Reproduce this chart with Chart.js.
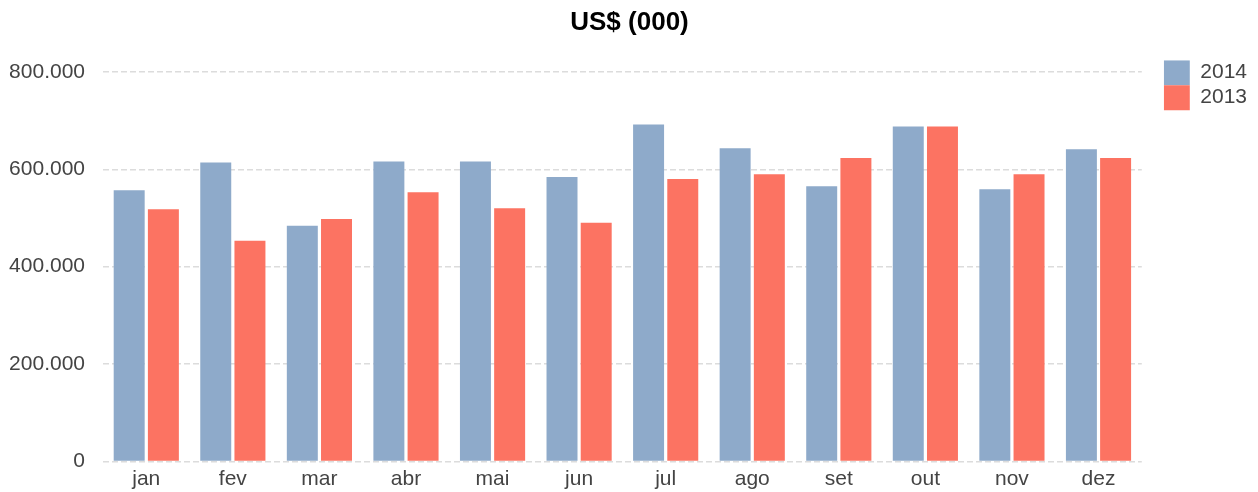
<!DOCTYPE html>
<html>
<head>
<meta charset="utf-8">
<title>US$ (000)</title>
<script src="https://cdn.jsdelivr.net/npm/chart.js@4"></script>
<style>
    html, body { margin: 0; padding: 0; background: #fff; }
    #wrap { width: 1258px; height: 492px; position: relative; }
</style>
</head>
<body>
<div id="wrap"><canvas id="barChart"></canvas></div>
<script>
const months = ['jan', 'fev', 'mar', 'abr', 'mai', 'jun', 'jul', 'ago', 'set', 'out', 'nov', 'dez'];
const values2014 = [557000, 614000, 484000, 616000, 616000, 584000, 692000, 643000, 565000, 688000, 559000, 641000];
const values2013 = [518000, 453000, 498000, 553000, 520000, 490000, 580000, 590000, 623000, 688000, 590000, 623000];
const yTicks = [0, 200000, 400000, 600000, 800000];

const formatThousands = (v) => v.toString().replace(/\B(?=(\d{3})+(?!\d))/g, '.');

document.addEventListener('DOMContentLoaded', () => {
    const ctx = document.getElementById('barChart').getContext('2d');
    const font = 'Liberation Sans, Arial, sans-serif';

    const barChart = new Chart(ctx, {
        type: 'bar',
        data: {
            labels: months,
            datasets: [
                {
                    label: '2014',
                    data: values2014,
                    backgroundColor: '#8EAACA',
                    borderWidth: 0
                },
                {
                    label: '2013',
                    data: values2013,
                    backgroundColor: '#FC7362',
                    borderWidth: 0
                }
            ]
        },
        options: {
            responsive: true,
            maintainAspectRatio: false,
            animation: false,
            datasets: {
                bar: {
                    categoryPercentage: 0.79,
                    barPercentage: 0.906
                }
            },
            layout: {
                padding: { left: 2, right: 1, top: 0, bottom: 0 }
            },
            plugins: {
                title: {
                    display: true,
                    text: 'US$ (000)',
                    color: '#000',
                    font: { family: font, size: 26, weight: 'bold' },
                    padding: { top: 7, bottom: 22 }
                },
                legend: {
                    position: 'right',
                    align: 'start',
                    fullSize: false,
                    labels: {
                        boxWidth: 26,
                        boxHeight: 25,
                        padding: 0,
                        color: '#444',
                        font: { family: font, size: 21 }
                    }
                },
                tooltip: { enabled: false }
            },
            scales: {
                x: {
                    grid: { display: false, drawTicks: false },
                    border: { display: false },
                    ticks: {
                        color: '#444',
                        padding: 5,
                        font: { family: font, size: 21 }
                    },
                    afterFit: (scale) => {
                        scale.height = 28.5;
                    }
                },
                y: {
                    min: 0,
                    max: 824000,
                    afterBuildTicks: (scale) => {
                        scale.ticks = yTicks.map(v => ({ value: v }));
                    },
                    grid: {
                        color: '#dcdcdc',
                        lineWidth: 1.5,
                        drawTicks: false
                    },
                    border: { display: false, dash: [6, 3] },
                    ticks: {
                        color: '#444',
                        padding: 18,
                        font: { family: font, size: 21 },
                        callback: (v) => formatThousands(v)
                    },
                    afterFit: (scale) => {
                        scale.width = 101;
                    }
                },
                gap: {
                    type: 'linear',
                    position: 'right',
                    display: true,
                    grid: { display: false, drawTicks: false },
                    border: { display: false },
                    ticks: { display: false },
                    afterFit: (scale) => {
                        scale.width = 22;
                    }
                }
            }
        }
    });
});
</script>
</body>
</html>
